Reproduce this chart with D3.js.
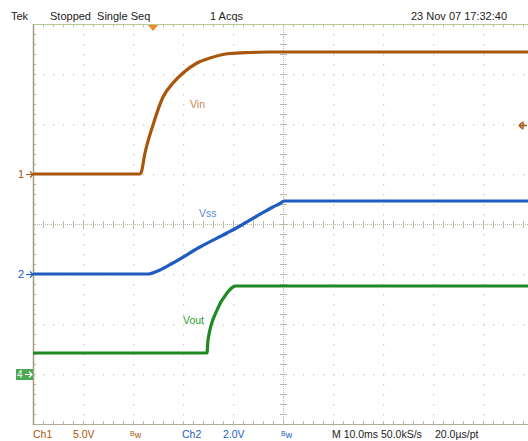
<!DOCTYPE html>
<html><head><meta charset="utf-8">
<script src="https://cdn.jsdelivr.net/npm/d3@7"></script>
<style>html,body{margin:0;padding:0;background:#fff;}svg{display:block;font-family:"Liberation Sans",Arial,sans-serif;}</style>
</head><body><svg id="c" width="528" height="441"></svg>
<script>
// time in ms (10 ms/div, 10 divisions), voltages per channel
const vinTime  = [0, 21.4, 21.6, 22.4, 24.0, 26.0, 28.0, 30.0, 32.8, 35.4, 39.4, 43.4, 47.4, 70.0, 99.0];
const vinVolts = [0, 0.0, 0.1, 2.1, 4.9, 7.7, 9.1, 10.1, 11.1, 11.6, 12.05, 12.15, 12.2, 12.2, 12.2];
const vssTime  = [0, 23.0, 25.4, 28.0, 33.4, 38.8, 41.4, 44.8, 48.0, 49.4, 50.2, 60.0, 99.0];
const vssVolts = [0, 0.0, 0.16, 0.44, 1.08, 1.64, 1.92, 2.32, 2.68, 2.82, 2.92, 2.92, 2.92];
const voutTime  = [0, 34.8, 35.0, 36.8, 38.8, 40.0, 40.6, 60.0, 99.0];
const voutVolts = [0.84, 0.84, 1.36, 2.56, 3.24, 3.48, 3.52, 3.52, 3.52];
const topTexts = [["Tek", 11], ["Stopped  Single Seq", 50], ["1 Acqs", 210], ["23 Nov 07 17:32:40", 411]];
const chScales = [5.0, 2.0, 2.0]; // V/div for Ch1, Ch2, Ch4

const svg = d3.select("#c");
const L = 33, T = 24, DIV = 50;
const x = d3.scaleLinear().domain([0, 100]).range([L, L + 10 * DIV]);
const y1 = d3.scaleLinear().domain([0, chScales[0]]).range([174, 174 - DIV]);
const y2 = d3.scaleLinear().domain([0, chScales[1]]).range([274, 274 - DIV]);
const y4 = d3.scaleLinear().domain([0, chScales[2]]).range([374, 374 - DIV]);
const W = 528, B = T + 8 * DIV;

// graticule
const g = svg.append("g");
const dotCol = "#c8c8c0";
for (let i = 1; i < 10; i++) {
  const gx = L + i * DIV;
  if (i === 5) continue;
  for (let yy = T; yy <= B; yy += 10) g.append("rect").attr("x", gx).attr("y", yy).attr("width", 1.3).attr("height", 1.3).attr("fill", dotCol);
}
for (let j = 1; j < 8; j++) {
  const gy = T + j * DIV;
  if (j === 4) continue;
  for (let xx = L; xx <= W; xx += 10) g.append("rect").attr("x", xx).attr("y", gy).attr("width", 1.3).attr("height", 1.3).attr("fill", dotCol);
}
// center cross
const cx = L + 5 * DIV, cy = T + 4 * DIV, tickCol = "#b8b8a8";
g.append("line").attr("x1", cx + 0.5).attr("x2", cx + 0.5).attr("y1", T).attr("y2", B).attr("stroke", tickCol).attr("stroke-dasharray", "1,1");
g.append("line").attr("y1", cy + 0.5).attr("y2", cy + 0.5).attr("x1", L).attr("x2", W).attr("stroke", tickCol).attr("stroke-dasharray", "1,1");
for (let xx = L; xx <= W; xx += 10) {
  const len = ((xx - L) % 50 === 0) ? 4 : 3;
  g.append("line").attr("x1", xx + 0.5).attr("x2", xx + 0.5).attr("y1", cy - len).attr("y2", cy + len + 1).attr("stroke", tickCol);
  g.append("line").attr("x1", xx + 0.5).attr("x2", xx + 0.5).attr("y1", T).attr("y2", T + 3).attr("stroke", tickCol);
  g.append("line").attr("x1", xx + 0.5).attr("x2", xx + 0.5).attr("y1", B - 3).attr("y2", B).attr("stroke", tickCol);
}
for (let yy = T; yy <= B; yy += 10) {
  g.append("line").attr("y1", yy + 0.5).attr("y2", yy + 0.5).attr("x1", cx - 3).attr("x2", cx + 4).attr("stroke", tickCol);
  g.append("line").attr("y1", yy + 0.5).attr("y2", yy + 0.5).attr("x1", L).attr("x2", L + 3).attr("stroke", tickCol);
}
// borders
g.append("line").attr("x1", L).attr("x2", W).attr("y1", T + 0.5).attr("y2", T + 0.5).attr("stroke", "#b4cc94");
g.append("line").attr("x1", L).attr("x2", W).attr("y1", B + 0.5).attr("y2", B + 0.5).attr("stroke", "#b0ac98");
g.append("line").attr("x1", L + 0.5).attr("x2", L + 0.5).attr("y1", T).attr("y2", B + 1).attr("stroke", "#a89c80").attr("stroke-width", 1.5);

// traces
function trace(ts, vs, ys, col) {
  const pts = ts.map((t, i) => [t, vs[i]]);
  const line = d3.line().x(d => x(d[0])).y(d => ys(d[1])).curve(d3.curveMonotoneX);
  svg.append("path").attr("d", line(pts)).attr("fill", "none").attr("stroke", col).attr("stroke-width", 3.2);
}
const c1 = "#a8560c", c2 = "#1e5cc0", c4 = "#1f8a22";
trace(vinTime, vinVolts, y1, c1);
trace(vssTime, vssVolts, y2, c2);
trace(voutTime, voutVolts, y4, c4);

// channel labels
svg.append("text").attr("x", 190).attr("y", 108).attr("font-size", 10.5).attr("fill", "#c08850").text("Vin");
svg.append("text").attr("x", 199).attr("y", 217).attr("font-size", 10.5).attr("fill", "#5a8ad8").text("Vss");
svg.append("text").attr("x", 183).attr("y", 324).attr("font-size", 10.5).attr("fill", "#2f9a32").text("Vout");

// ground markers
function marker(lbl, yy, col) {
  svg.append("text").attr("x", 18).attr("y", yy + 4).attr("font-size", 11).attr("fill", col).text(lbl);
  svg.append("path").attr("d", `M26,${yy + 0.5}H32M30,${yy - 2.5}L33,${yy + 0.5}L30,${yy + 3.5}`).attr("stroke", col).attr("fill", "none").attr("stroke-width", 1.2);
}
marker("1", y1(0), c1);
marker("2", y2(0), c2);
const y40 = y4(0);
svg.append("rect").attr("x", 16).attr("y", y40 - 5).attr("width", 17).attr("height", 11).attr("fill", "#4aaa52");
svg.append("text").attr("x", 17).attr("y", y40 + 4).attr("font-size", 10).attr("fill", "#fff").text("4");
svg.append("path").attr("d", `M25,${y40 + 0.5}H32M29,${y40 - 2.5}L32,${y40 + 0.5}L29,${y40 + 3.5}`).attr("stroke", "#fff").attr("fill", "none").attr("stroke-width", 1.2);

// trigger position & level markers
svg.append("path").attr("d", `M${x(24) - 5},25L${x(24) + 5},25L${x(24)},31Z`).attr("fill", "#f08a1e");
const ty = y1(4.9);
svg.append("path").attr("d", `M519,${ty + 0.5}H527M523,${ty - 3.5}V${ty + 4.5}M519,${ty + 0.5}L522,${ty - 2.5}M519,${ty + 0.5}L522,${ty + 3.5}`).attr("stroke", c1).attr("stroke-width", 1.4).attr("fill", "none");

// top status
topTexts.forEach(([t, xx]) => svg.append("text").attr("x", xx).attr("y", 20).attr("font-size", 11).attr("fill", "#222").attr("xml:space", "preserve").text(t));

// bottom status
function bw(xx, col) {
  const t = svg.append("text").attr("x", xx).attr("y", 438).attr("fill", col);
  t.append("tspan").attr("font-size", 7).attr("dy", -2).text("B");
  t.append("tspan").attr("font-size", 9).attr("dy", 2).text("w");
}
const bot = (t, xx, col) => svg.append("text").attr("x", xx).attr("y", 438).attr("font-size", 10.5).attr("fill", col).text(t);
bot("Ch1", 33, c1); bot(chScales[0].toFixed(1) + "V", 73, c1); bw(130, c1);
bot("Ch2", 182, c2); bot(chScales[1].toFixed(1) + "V", 223, c2); bw(281, c2);
bot("M 10.0ms 50.0kS/s", 332, "#222"); bot("20.0µs/pt", 435, "#222");
</script></body></html>
